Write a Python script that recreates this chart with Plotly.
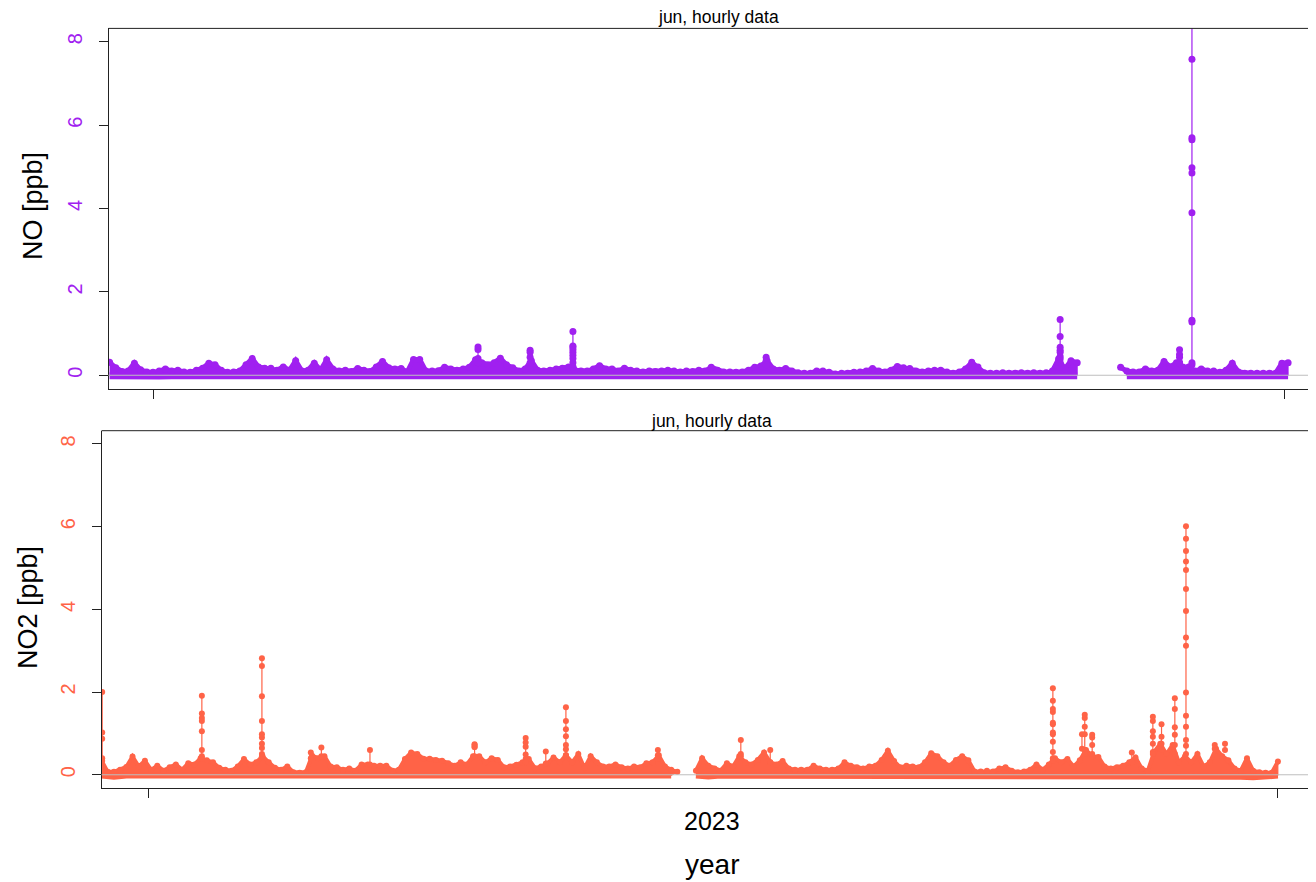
import datetime as dt
import plotly.graph_objects as go

BASE = dt.datetime(2023, 1, 1)

# ---------------- NO (top panel) ----------------
# upper envelope of the hourly band, one value every 2 days starting at day -14 (day 0 = 2023-01-01)
no_hi_start = -14
no_hi = [
    0.31, 0.18, 0.09, 0.10, 0.29, 0.13, 0.08, 0.07, 0.10, 0.15,
    0.10, 0.12, 0.08, 0.07, 0.12, 0.17, 0.29, 0.25, 0.12, 0.07,
    0.08, 0.10, 0.25, 0.40, 0.20, 0.17, 0.17, 0.12, 0.20, 0.12,
    0.35, 0.10, 0.12, 0.29, 0.12, 0.37, 0.15, 0.10, 0.12, 0.09,
    0.16, 0.12, 0.09, 0.20, 0.33, 0.18, 0.15, 0.16, 0.08, 0.38,
    0.38, 0.10, 0.10, 0.11, 0.19, 0.15, 0.12, 0.15, 0.19, 0.37,
    0.30, 0.25, 0.30, 0.41, 0.25, 0.18, 0.10, 0.15, 0.35, 0.12,
    0.10, 0.12, 0.15, 0.17, 0.20, 0.12, 0.10, 0.10, 0.15, 0.23,
    0.15, 0.15, 0.10, 0.17, 0.12, 0.10, 0.08, 0.10, 0.09, 0.10,
    0.12, 0.10, 0.08, 0.10, 0.09, 0.12, 0.10, 0.19, 0.12, 0.08,
    0.08, 0.07, 0.08, 0.12, 0.19, 0.22, 0.35, 0.15, 0.12, 0.16,
    0.10, 0.06, 0.05, 0.05, 0.10, 0.10, 0.07, 0.03, 0.05, 0.05,
    0.07, 0.08, 0.10, 0.16, 0.10, 0.08, 0.12, 0.21, 0.18, 0.16,
    0.10, 0.08, 0.10, 0.12, 0.12, 0.08, 0.05, 0.08, 0.15, 0.31,
    0.20, 0.06, 0.05, 0.05, 0.06, 0.05, 0.05, 0.06, 0.05, 0.06,
    0.05, 0.06, 0.10, 0.39, 0.15, 0.35, 0.30, None, None, None,
    None, None, None, 0.19, 0.10, 0.08, 0.08, 0.15, 0.10, 0.12,
    0.33, 0.20, 0.30, 0.20, 0.20, 0.10, 0.15, 0.10, 0.10, 0.07,
    0.12, 0.29, 0.08, 0.05, 0.05, 0.05, 0.05, 0.05, 0.05, 0.29,
    0.30,
]
# lower edge of the band, one value every 4 days starting at day -14
no_lo_start = -14
no_lo = [
    -0.01, -0.02, -0.01, -0.01, -0.02, -0.01, -0.01, -0.02, -0.01, -0.01,
    -0.01, -0.01, -0.02, -0.01, -0.01, -0.01, -0.02, -0.01, -0.01, -0.01,
    -0.01, -0.02, -0.01, -0.01, -0.01, -0.01, -0.02, -0.01, -0.01, -0.01,
    -0.01, -0.01, -0.01, -0.02, -0.01, -0.01, -0.01, -0.02, -0.01, -0.01,
    -0.01, -0.01, -0.02, -0.01, -0.01, -0.01, -0.01, -0.02, -0.02, -0.02,
    -0.02, -0.05, -0.02, -0.05, -0.03, -0.05, -0.05, -0.05, -0.02, -0.03,
    -0.05, -0.02, -0.02, -0.03, -0.02, -0.05, -0.02, -0.05, -0.05, -0.02,
    -0.05, -0.02, -0.01, -0.01, -0.01, -0.01, -0.01, -0.01, -0.01, None,
    None, None, -0.01, -0.01, -0.01, -0.01, -0.01, -0.01, -0.01, -0.01,
    -0.01, -0.01, -0.01, -0.01, -0.01, -0.01,
]
# isolated peaks (day, hourly values)
no_spike_days = [104.8, 121.6, 135.4, 197.7, 292.5, 331.0, 335.0]
no_spike_vals = [
    [0.30, 0.62, 0.68, 0.40, 0.30],
    [0.25, 0.60, 0.55, 0.43, 0.30],
    [0.20, 0.70, 1.05, 0.68, 0.62, 0.55, 0.48, 0.40, 0.30, 0.20],
    [0.20, 0.43, 0.35, 0.25],
    [0.20, 0.39, 0.45, 0.55, 0.60, 0.67, 0.93, 1.34, 0.30],
    [0.30, 0.43, 0.61, 0.50, 0.30],
    [0.25, 1.28, 1.32, 3.90, 9.50, 7.58, 5.70, 5.65, 4.98, 4.85, 0.30],
]

# ---------------- NO2 (bottom panel) ----------------
no2_hi_start = -15
no2_hi = [
    0.34, 0.07, 0.07, 0.12, 0.19, 0.44, 0.20, 0.34, 0.12, 0.22,
    0.10, 0.18, 0.25, 0.12, 0.28, 0.25, 0.40, 0.35, 0.30, 0.17,
    0.12, 0.10, 0.20, 0.38, 0.25, 0.30, 0.45, 0.30, 0.17, 0.12,
    0.20, 0.06, 0.05, 0.06, 0.46, 0.40, 0.45, 0.20, 0.18, 0.12,
    0.15, 0.10, 0.25, 0.25, 0.22, 0.22, 0.22, 0.10, 0.12, 0.38,
    0.54, 0.50, 0.39, 0.39, 0.36, 0.34, 0.28, 0.22, 0.30, 0.25,
    0.45, 0.45, 0.30, 0.40, 0.36, 0.18, 0.20, 0.24, 0.30, 0.38,
    0.16, 0.20, 0.27, 0.42, 0.30, 0.47, 0.30, 0.50, 0.16, 0.45,
    0.30, 0.20, 0.20, 0.25, 0.18, 0.15, 0.20, 0.18, 0.28, 0.30,
    0.47, 0.20, 0.12, 0.07, None, None, 0.10, 0.40, 0.22, 0.15,
    0.10, 0.28, 0.20, 0.45, 0.30, 0.25, 0.36, 0.54, 0.30, 0.25,
    0.33, 0.15, 0.12, 0.12, 0.12, 0.22, 0.15, 0.12, 0.12, 0.15,
    0.30, 0.22, 0.18, 0.15, 0.20, 0.22, 0.36, 0.58, 0.33, 0.18,
    0.22, 0.20, 0.18, 0.30, 0.52, 0.45, 0.30, 0.22, 0.36, 0.45,
    0.35, 0.08, 0.08, 0.10, 0.08, 0.15, 0.18, 0.10, 0.06, 0.08,
    0.12, 0.25, 0.12, 0.25, 0.40, 0.30, 0.38, 0.20, 0.35, 0.60,
    0.45, 0.43, 0.20, 0.15, 0.18, 0.22, 0.30, 0.42, 0.15, 0.10,
    0.55, 0.75, 0.50, 0.72, 0.30, 0.45, 0.30, 0.50, 0.20, 0.30,
    0.63, 0.45, 0.35, 0.15, 0.10, 0.40, 0.10, 0.06, 0.05, 0.05,
    0.32,
]
no2_lo_start = -15
no2_lo = [
    -0.02, -0.05, -0.02, -0.02, -0.04, -0.02, -0.02, -0.03, -0.02, -0.05,
    -0.02, -0.02, -0.04, -0.02, -0.02, -0.03, -0.02, -0.05, -0.02, -0.02,
    -0.02, -0.04, -0.02, -0.02, -0.03, -0.02, -0.02, -0.04, -0.02, -0.02,
    -0.02, -0.04, -0.02, -0.02, -0.02, -0.05, -0.02, -0.02, -0.03, -0.02,
    -0.02, -0.03, -0.02, -0.02, -0.02, -0.02, -0.02, None, -0.02, -0.04,
    -0.02, -0.02, -0.02, -0.04, -0.02, -0.02, -0.03, -0.02, -0.02, -0.02,
    -0.04, -0.02, -0.02, -0.02, -0.03, -0.02, -0.02, -0.04, -0.02, -0.02,
    -0.02, -0.02, -0.03, -0.02, -0.02, -0.04, -0.02, -0.02, -0.02, -0.03,
    -0.02, -0.02, -0.02, -0.04, -0.02, -0.02, -0.03, -0.02, -0.02, -0.02,
    -0.02, -0.03, -0.05, -0.06, -0.03, -0.02,
]
no2_spike_days = [-14.8, 17.4, 36.8, 52.6, 56.0, 71.7, 105.5, 122.0, 128.5, 135.0,
                  164.7, 191.5, 201.0, 292.3, 301.7, 302.6, 305.0, 317.8, 324.6,
                  327.4, 331.7, 335.3, 344.6, 347.9]
no2_spike_vals = [
    [0.34, 2.00, 1.02, 0.87, 0.40],
    [0.40, 0.60, 1.05, 1.30, 1.37, 1.48, 1.91, 0.45],
    [0.45, 0.65, 0.75, 0.90, 0.98, 1.30, 1.90, 2.63, 2.82, 0.50],
    [0.40, 0.54],
    [0.45, 0.66],
    [0.25, 0.60],
    [0.45, 0.67, 0.74, 0.72, 0.67],
    [0.38, 0.49, 0.68, 0.78, 0.89, 0.30],
    [0.27, 0.56],
    [0.47, 0.62, 0.72, 0.93, 1.10, 1.30, 1.63, 0.45],
    [0.38, 0.47, 0.60],
    [0.45, 0.84, 0.50],
    [0.30, 0.60],
    [0.40, 0.55, 0.80, 0.98, 1.02, 1.22, 1.26, 1.52, 1.59, 1.79, 2.09, 0.35],
    [0.63, 0.98],
    [0.60, 0.98, 1.16, 1.37, 1.45, 0.50],
    [0.45, 0.72, 0.90, 0.97, 0.50],
    [0.30, 0.54],
    [0.55, 0.75, 0.92, 1.05, 1.30, 1.40, 0.50],
    [0.75, 0.92, 1.22, 0.60],
    [0.72, 0.97, 1.15, 1.59, 1.85, 0.50],
    [0.50, 0.84, 1.16, 1.43, 1.99, 3.12, 3.32, 3.96, 4.49, 4.95, 5.16, 5.41, 5.71, 6.01, 0.70],
    [0.63, 0.72],
    [0.60, 0.75],
]

y_ticks = [0, 2, 4, 6, 8]
x_tick_dates = ["2023-01-01", "2024-01-01"]
year_label = "2023"

NO_COL = "#A020F0"
NO2_COL = "#FF6347"

# the page body has an 8px margin: figure spans page pixels 8..1316 and 8..882
OFF = 8
W, H = 1316 - OFF, 882 - OFF


def day(d):
    return BASE + dt.timedelta(days=d)


def pxx(p):
    return (p - OFF) / W


def pxy(p):
    return 1 - (p - OFF) / H


def segments(start, step, vals):
    segs, cur = [], []
    for i, v in enumerate(vals):
        d = start + i * step
        if v is None:
            if cur:
                segs.append(cur)
                cur = []
        else:
            cur.append((d, v))
    if cur:
        segs.append(cur)
    return segs


def band_traces(hi_start, hi, lo_start, lo, sp_days, sp_vals, color, msize, xa, ya):
    hs = segments(hi_start, 2, hi)
    ls = segments(lo_start, 4, lo)
    px, py = [], []
    for a, b in zip(hs, ls):
        pts = a + b[::-1]
        px += [day(d) for d, _ in pts] + [None]
        py += [v for _, v in pts] + [None]
    traces = [go.Scatter(x=px, y=py, mode="lines", fill="toself", fillcolor=color,
                         line=dict(color=color, width=1), xaxis=xa, yaxis=ya,
                         hoverinfo="skip", showlegend=False)]
    # lower edge: dense hourly points merge into a smooth thick edge
    traces.append(go.Scatter(
        x=[day(lo_start + i * 4) for i in range(len(lo))], y=lo, mode="lines",
        line=dict(color=color, width=msize), xaxis=xa, yaxis=ya, showlegend=False))
    # upper edge
    traces.append(go.Scatter(
        x=[day(hi_start + i * 2) for i in range(len(hi))], y=hi, mode="lines+markers",
        line=dict(color=color, width=msize - 2),
        marker=dict(color=color, size=msize), xaxis=xa, yaxis=ya, showlegend=False))
    sx, sy = [], []
    for d, vs in zip(sp_days, sp_vals):
        sx += [day(d)] * len(vs) + [None]
        sy += vs + [None]
    traces.append(go.Scatter(x=sx, y=sy, mode="lines+markers",
                             line=dict(color=color, width=1.2),
                             marker=dict(color=color, size=msize),
                             xaxis=xa, yaxis=ya, showlegend=False))
    return traces


fig = go.Figure()
for t in band_traces(no_hi_start, no_hi, no_lo_start, no_lo, no_spike_days, no_spike_vals,
                     NO_COL, 7, "x", "y"):
    fig.add_trace(t)
for t in band_traces(no2_hi_start, no2_hi, no2_lo_start, no2_lo, no2_spike_days, no2_spike_vals,
                     NO2_COL, 6, "x2", "y2"):
    fig.add_trace(t)

# panel geometry (page pixels)
top_box = (108.5, 28.4, 388.6)     # left, top, bottom
bot_box = (101.5, 430.7, 788.0)

AX = "#222222"
common_x = dict(type="date", showgrid=False, zeroline=False, showline=True, linecolor=AX,
                linewidth=1, ticks="outside", ticklen=9, tickcolor=AX,
                tickvals=x_tick_dates, ticktext=["", ""])
common_y = dict(range=[-0.32, 8.32], tickvals=y_ticks, ticks="outside", ticklen=9,
                tickcolor=AX, showgrid=False, zeroline=False, showline=True, linecolor=AX,
                linewidth=1, tickangle=-90, ticklabelstandoff=9)

fig.update_layout(
    width=W, height=H, margin=dict(l=0, r=0, t=0, b=0),
    paper_bgcolor="white", plot_bgcolor="white", showlegend=False,
    font=dict(family="Liberation Sans, Arial, sans-serif", size=18, color="black"),
    xaxis=dict(common_x, domain=[pxx(top_box[0]), 1], anchor="y",
               range=[day(-14.35), day(375.0)]),
    yaxis=dict(common_y, domain=[pxy(top_box[2]), pxy(top_box[1])], anchor="x",
               tickfont=dict(color=NO_COL, size=20)),
    xaxis2=dict(common_x, domain=[pxx(bot_box[0]), 1], anchor="y2",
                range=[day(-15.02), day(377.3)]),
    yaxis2=dict(common_y, domain=[pxy(bot_box[2]), pxy(bot_box[1])], anchor="x2",
                tickfont=dict(color=NO2_COL, size=20)),
)

shapes = []
for xa, ya, box in (("x", "y", top_box), ("x2", "y2", bot_box)):
    shapes.append(dict(type="line", xref="paper", yref="paper", x0=pxx(box[0]), x1=1,
                       y0=pxy(box[1]), y1=pxy(box[1]), line=dict(color=AX, width=1)))
    shapes.append(dict(type="line", xref=xa + " domain", yref=ya, x0=0, x1=1, y0=0, y1=0,
                       line=dict(color="#BEBEBE", width=1), layer="above"))
fig.update_layout(shapes=shapes)

TITLE_FONT = dict(family="Liberation Sans Narrow, Arial Narrow, Liberation Sans", size=17.5,
                  color="black")
ann = [
    dict(text="jun, hourly data", x=pxx(718), y=pxy(17), font=TITLE_FONT),
    dict(text="jun, hourly data", x=pxx(711), y=pxy(421), font=TITLE_FONT),
    dict(text="NO [ppb]", x=pxx(33), y=pxy(206), textangle=-90, font=dict(size=27)),
    dict(text="NO2 [ppb]", x=pxx(28), y=pxy(608), textangle=-90, font=dict(size=27)),
    dict(text=year_label, x=pxx(712), y=pxy(821), font=dict(size=25)),
    dict(text="year", x=pxx(712), y=pxy(864), font=dict(size=28)),
]
for a in ann:
    a.update(xref="paper", yref="paper", showarrow=False, xanchor="center", yanchor="middle")
fig.update_layout(annotations=ann)

fig.write_html("out.html")
